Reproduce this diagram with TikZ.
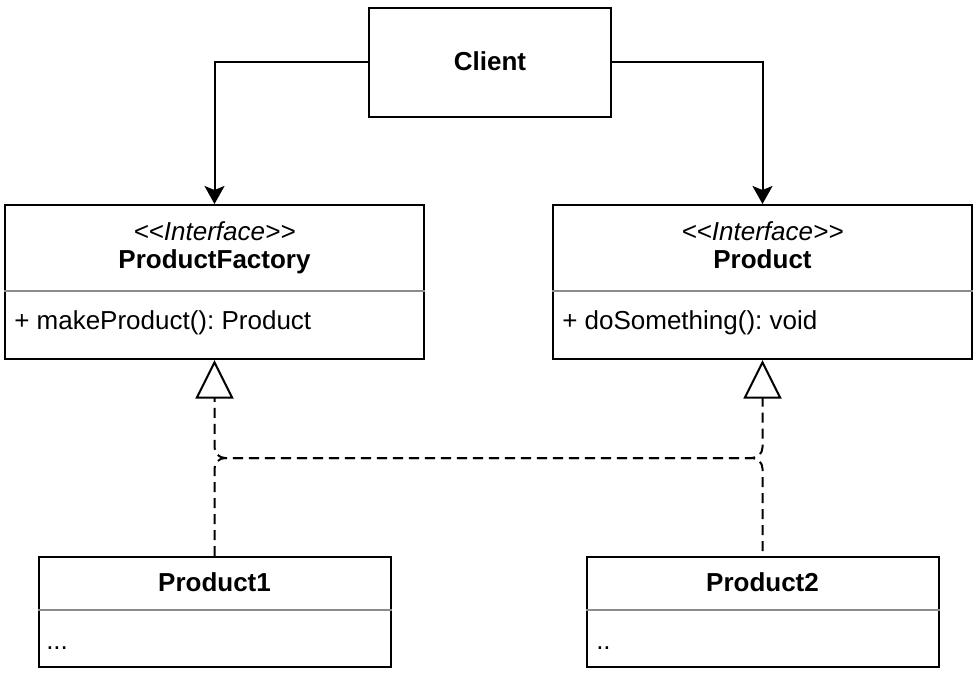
\documentclass[tikz,border=0pt]{standalone}
\usepackage{fontspec}
\setmainfont{Liberation Sans}
\usetikzlibrary{arrows.meta,positioning}
\newcommand{\fs}{\fontsize{19.5}{23}\selectfont}
\frenchspacing

\begin{document}
\begin{tikzpicture}[x=0.75pt,y=-0.75pt,
   classbox/.style 2 args={draw=black,line width=1.5pt,minimum width=#1*0.75pt,minimum height=#2*0.75pt,inner sep=0pt},
   txt/.style={font=\fs,inner sep=0pt,anchor=base},
   sep/.style={draw=black!45,line width=1.5pt},
   uses/.style={line width=1.5pt,-{Stealth[length=13.5pt,width=15pt,inset=3pt]}},
   realize/.style={line width=1.5pt,dash pattern=on 7.5pt off 4.5pt,rounded corners=8pt,
                   -{Triangle[open,length=29pt,width=28.5pt]}}]
   \useasboundingbox (0,0) rectangle (976,674);

   % client
   \node[classbox={242}{109}] (client) at (490,62.5) {};
   \node[txt,font=\fs\bfseries] (clientname) at (490,71) {Client};

   % interfaces
   \node[classbox={419}{154}] (factory) at (214.5,282) {};
   \node[txt,font=\fs\itshape] (factorystereo) at (214.5,240) {{<}{<}Interface{>}{>}};
   \node[txt,font=\fs\bfseries] (factoryname) at (214.5,268) {ProductFactory};
   \draw[sep] (factory.west |- 0,291) -- (factory.east |- 0,291);
   \node[txt,anchor=base west] (factoryop) at (14,329) {+ makeProduct(): Product};

   \node[classbox={419}{154}] (product) at (762.5,282) {};
   \node[txt,font=\fs\itshape] (productstereo) at (762.5,240) {{<}{<}Interface{>}{>}};
   \node[txt,font=\fs\bfseries] (productname) at (762.5,268) {Product};
   \draw[sep] (product.west |- 0,291) -- (product.east |- 0,291);
   \node[txt,anchor=base west] (productop) at (562,329) {+ doSomething(): void};

   % concrete classes
   \node[classbox={352}{110}] (prod1) at (214.5,612) {};
   \node[txt,font=\fs\bfseries] (prod1name) at (214.5,591) {Product1};
   \draw[sep] (prod1.west |- 0,610) -- (prod1.east |- 0,610);
   \node[txt,anchor=base west] (prod1body) at (46,649) {...};

   \node[classbox={352}{110}] (prod2) at (762.5,612) {};
   \node[txt,font=\fs\bfseries] (prod2name) at (762.5,591) {Product2};
   \draw[sep] (prod2.west |- 0,610) -- (prod2.east |- 0,610);
   \node[txt,anchor=base west] (prod2body) at (596,649) {..};

   % connectors
   \coordinate (bus) at (0,458);
   \draw[uses] (client.west) -| (factory.north);
   \draw[uses] (client.east) -| (product.north);
   \draw[realize] (prod1.north) -- (prod1.north |- bus) -- (product.south |- bus) -- (product.south);
   \draw[realize,dash phase=8.36pt] (prod2.north) -- (prod2.north |- bus) -- (factory.south |- bus) -- (factory.south);
\end{tikzpicture}
\end{document}
